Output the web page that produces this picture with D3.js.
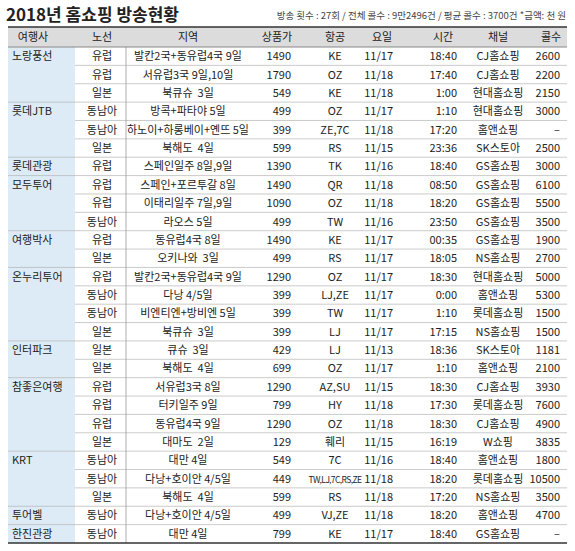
<!DOCTYPE html>
<html><head><meta charset="utf-8">
<script src="https://cdn.jsdelivr.net/npm/d3@7"></script>
<style>body{margin:0;background:#fff;font-family:"Noto Sans CJK KR",sans-serif;}</style>
</head><body>
<script>
// table data
var headers = ["여행사","노선","지역","상품가","항공","요일","시간","채널","콜수"];
var agencies = ["노랑풍선","","","롯데JTB","","","롯데관광","모두투어","","","여행박사","","온누리투어","","","","인터파크","","참좋은여행","","","","KRT","","","투어벨","한진관광"];
var routes = ["유럽","유럽","일본","동남아","동남아","일본","유럽","유럽","유럽","동남아","유럽","일본","유럽","동남아","동남아","일본","일본","일본","유럽","유럽","유럽","일본","동남아","동남아","일본","동남아","동남아"];
var regions = ["발칸2국+동유럽4국 9일","서유럽3국 9일,10일","북큐슈  3일","방콕+파타야 5일","하노이+하롱베이+옌뜨 5일","북해도  4일","스페인일주 8일,9일","스페인+포르투갈 8일","이태리일주 7일,9일","라오스 5일","동유럽4국 8일","오키나와  3일","발칸2국+동유럽4국 9일","다낭 4/5일","비엔티엔+방비엔 5일","북큐슈  3일","큐슈  3일","북해도  4일","서유럽3국 8일","터키일주 9일","동유럽4국 9일","대마도  2일","대만 4일","다낭+호이안 4/5일","북해도  4일","다낭+호이안 4/5일","대만 4일"];
var prices = [1490,1790,549,499,399,599,1390,1490,1090,499,1490,499,1290,399,399,399,429,699,1290,799,1290,129,549,449,599,499,799];
var airlines = ["KE","OZ","KE","OZ","ZE,7C","RS","TK","QR","OZ","TW","KE","RS","OZ","LJ,ZE","TW","LJ","LJ","OZ","AZ,SU","HY","OZ","훼리","7C","TW,LJ,7C,RS,ZE","RS","VJ,ZE","KE"];
var dates = ["11/17","11/18","11/18","11/17","11/18","11/15","11/16","11/18","11/18","11/16","11/17","11/17","11/17","11/17","11/17","11/17","11/13","11/17","11/15","11/18","11/18","11/15","11/16","11/18","11/18","11/18","11/17"];
var times = ["18:40","17:40","1:00","1:10","17:20","23:36","18:40","08:50","18:20","23:50","00:35","18:05","18:30","0:00","1:10","17:15","18:36","1:10","18:30","17:30","18:30","16:19","18:40","18:20","17:20","18:20","18:40"];
var channels = ["CJ홈쇼핑","CJ홈쇼핑","현대홈쇼핑","현대홈쇼핑","홈앤쇼핑","SK스토아","GS홈쇼핑","GS홈쇼핑","GS홈쇼핑","GS홈쇼핑","GS홈쇼핑","NS홈쇼핑","현대홈쇼핑","홈앤쇼핑","롯데홈쇼핑","NS홈쇼핑","SK스토아","홈앤쇼핑","CJ홈쇼핑","롯데홈쇼핑","CJ홈쇼핑","W쇼핑","홈앤쇼핑","롯데홈쇼핑","NS홈쇼핑","홈앤쇼핑","GS홈쇼핑"];
var calls = ["2600","2200","2150","3000","–","2500","3000","6100","5500","3500","1900","2700","5000","5300","1500","1500","1181","2100","3930","7600","4900","3835","1800","10500","3500","4700","–"];

var W = 575, H = 551, left = 8, right = 567, headTop = 27, headH = 20, rowsTop = 47, rowsBottom = 543;
var cols = [
  {x:12, a:"start", hx:33, ha:"middle"},
  {x:102, a:"middle"},
  {x:188, a:"middle"},
  {x:291, a:"end", hx:277, ha:"middle"},
  {x:335, a:"middle"},
  {x:393, a:"end", hx:382, ha:"middle"},
  {x:457, a:"end", hx:443, ha:"middle"},
  {x:498, a:"middle"},
  {x:560, a:"end", hx:551, ha:"middle"}
];
var rows = d3.range(routes.length).map(function(i){
  return [agencies[i],routes[i],regions[i],prices[i],airlines[i],dates[i],times[i],channels[i],calls[i]];
});
var y = d3.scaleBand().domain(d3.range(rows.length)).range([rowsTop, rowsBottom]);

var svg = d3.select("body").append("svg").attr("width", W).attr("height", H);
svg.append("text").attr("x", 6).attr("y", 21).attr("font-size", 17).attr("font-weight", "bold")
  .attr("fill", "#222").text("2018년 홈쇼핑 방송현황");
svg.append("text").attr("x", 566).attr("y", 19).attr("text-anchor", "end").attr("font-size", 9.5)
  .attr("fill", "#444").text("방송 횟수 : 27회 / 전체 콜수 : 9만2496건 / 평균 콜수 : 3700건  *금액: 천 원");

svg.append("rect").attr("x", left).attr("y", headTop).attr("width", right-left).attr("height", headH).attr("fill", "#dcdcdc");
svg.append("line").attr("x1", left).attr("x2", right).attr("y1", headTop).attr("y2", headTop).attr("stroke", "#333").attr("stroke-width", 1.5);
svg.append("rect").attr("x", left).attr("y", rowsTop).attr("width", 67).attr("height", rowsBottom-rowsTop).attr("fill", "#dcebf6");

svg.selectAll("text.h").data(headers).enter().append("text")
  .attr("x", function(d,i){return cols[i].hx || cols[i].x;})
  .attr("y", headTop + 14).attr("text-anchor", function(d,i){return cols[i].ha || cols[i].a;})
  .attr("font-size", 11).attr("fill", "#222").text(function(d){return d;});

// row lines
svg.selectAll("line.r").data(d3.range(1, rows.length)).enter().append("line")
  .attr("x1", function(i){return agencies[i] ? left : 75;}).attr("x2", right)
  .attr("y1", function(i){return y(i);}).attr("y2", function(i){return y(i);})
  .attr("stroke", "#b5b5b5").attr("stroke-width", 0.7);
svg.append("line").attr("x1", 126).attr("x2", 126).attr("y1", rowsTop).attr("y2", rowsBottom).attr("stroke", "#999").attr("stroke-width", 0.8);
svg.append("line").attr("x1", left).attr("x2", right).attr("y1", rowsTop).attr("y2", rowsTop).attr("stroke", "#888");
svg.append("line").attr("x1", left).attr("x2", right).attr("y1", rowsBottom).attr("y2", rowsBottom).attr("stroke", "#333").attr("stroke-width", 1.5);

var g = svg.selectAll("g.row").data(rows).enter().append("g")
  .attr("transform", function(d,i){return "translate(0," + (y(i) + y.bandwidth()/2 + 4) + ")";});
g.selectAll("text").data(function(d){return d;}).enter().append("text")
  .attr("x", function(d,i){return cols[i].x;})
  .attr("text-anchor", function(d,i){return cols[i].a;})
  .attr("font-size", function(d,i){return (i===4 && String(d).length > 10) ? 8.5 : 11;})
  .attr("letter-spacing", function(d,i){return (i===4 && String(d).length > 10) ? -0.6 : null;})
  .attr("fill", "#222").style("white-space", "pre").text(function(d){return d;});
</script>
</body></html>
